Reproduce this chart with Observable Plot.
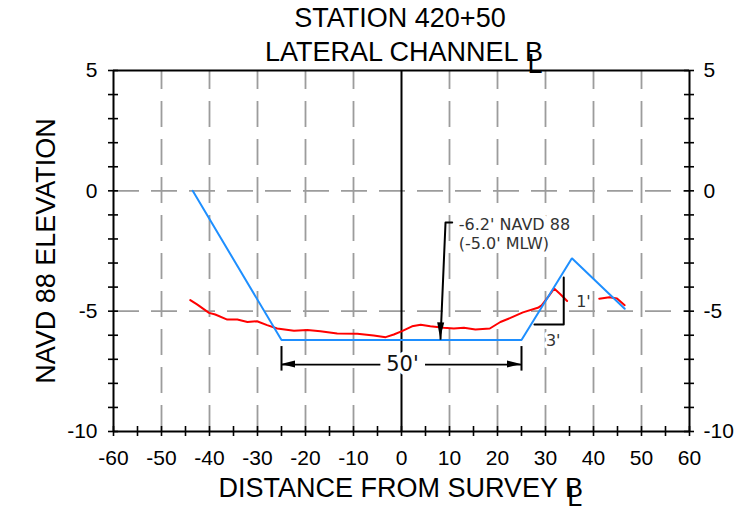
<!DOCTYPE html>
<html>
<head>
<meta charset="utf-8">
<script src="https://cdn.jsdelivr.net/npm/d3@7"></script>
<script src="https://cdn.jsdelivr.net/npm/@observablehq/plot@0.6"></script>
<style>
  html, body { margin: 0; padding: 0; background: #fff; }
  svg { display: block; }
</style>
</head>
<body>
<div id="chart"></div>
<script>
// ---------- data ----------
const xTickLabels = [-60, -50, -40, -30, -20, -10, 0, 10, 20, 30, 40, 50, 60];
const yTickLabels = [5, 0, -5, -10];
const xMinorTicks = [-60, -55, -50, -45, -40, -35, -30, -25, -20, -15, -10, -5, 0, 5, 10, 15, 20, 25, 30, 35, 40, 45, 50, 55, 60];
const yMinorTicks = [5, 4, 3, 2, 1, 0, -1, -2, -3, -4, -5, -6, -7, -8, -9, -10];
const gridX = [-50, -40, -30, -20, -10, 10, 20, 30, 40, 50];
const gridY = [0, -5];

// design channel template (blue)
const designX = [-43.5, -25, 25, 35.5, 46.5];
const designY = [0, -6.2, -6.2, -2.8, -4.9];

// surveyed ground (red), two pieces (interrupted by the 1' label)
const surveyMainX = [-44.0, -42.6, -40.1, -38.8, -36.3, -34.2, -32.1, -30.1, -28.0, -25.9, -22.4, -19.6, -16.9, -13.4, -9.2, -5.8, -3.3, -1.6, 0.1, 2.2, 4.0, 6.0, 8.8, 10.9, 13.0, 15.4, 18.4, 20.6, 22.7, 25.3, 28.4, 29.2, 30.4, 31.8, 33.1, 34.5];
const surveyMainY = [-4.54, -4.72, -5.07, -5.14, -5.35, -5.35, -5.45, -5.42, -5.58, -5.72, -5.81, -5.78, -5.83, -5.93, -5.94, -6.01, -6.08, -5.97, -5.83, -5.63, -5.56, -5.63, -5.69, -5.72, -5.69, -5.76, -5.72, -5.45, -5.28, -5.05, -4.86, -4.76, -4.45, -4.06, -4.30, -4.58];
const surveyEastX = [41.2, 43.3, 44.9, 46.5];
const surveyEastY = [-4.48, -4.42, -4.47, -4.75];

// annotations
const leaderX = [10.56, 9.17, 8.13];
const leaderY = [-1.32, -1.32, -6.15];
const slopeX = [27.7, 33.8, 33.8];
const slopeY = [-5.55, -5.55, -3.6];
const dimTickX = [-25, 25];
const dimLineX1 = [-25, 4.9];
const dimLineX2 = [-4.4, 25];
const dimY = -7.22;
const labels = [
  {x: 11.94, y: -1.04, text: "-6.2' NAVD 88\n(-5.0' MLW)"},
];
const widthLabel = [{x: 0.2, y: -7.22, text: "50'"}];
const slopeLabels = [
  {x: 37.9, y: -4.63, text: "1'"},
  {x: 31.6, y: -6.22, text: "3'"}
];

// ---------- chart ----------
const W = 741, H = 526;
const M = {top: 70, right: 52, bottom: 95, left: 113};
const gray = "#9c9c9c";
const font = "'Liberation Sans', Arial, Helvetica, sans-serif";
const annoFont = "'DejaVu Sans', Verdana, sans-serif";
const pts = (xs, ys) => xs.map((x, i) => ({x, y: ys[i]}));
const fmt = d => String(d);

const plot = Plot.plot({
  width: W,
  height: H,
  marginTop: M.top,
  marginRight: M.right,
  marginBottom: M.bottom,
  marginLeft: M.left,
  style: {fontFamily: font, fontSize: "21px", color: "#000", background: "#fff", overflow: "visible"},
  x: {domain: [-60, 60], label: null},
  y: {domain: [-10, 5], label: null},
  marks: [
    // dashed grid
    Plot.ruleX(gridX, {y1: -10, y2: 5, stroke: gray, strokeWidth: 1.8, strokeDasharray: "26,12"}),
    Plot.ruleY(gridY, {x1: -60, x2: 60, stroke: gray, strokeWidth: 1.8, strokeDasharray: "26,12"}),
    // white gaps around the dimension line
    Plot.link(dimLineX1, {x1: d => d, x2: (d, i) => dimLineX2[i], y1: dimY, y2: dimY, stroke: "#fff", strokeWidth: 7}),
    // centerline
    Plot.ruleX([0], {y1: -10, y2: 5, stroke: "#000", strokeWidth: 2}),
    // frame
    Plot.ruleX([-60, 60], {y1: -10, y2: 5, stroke: "#000", strokeWidth: 2}),
    Plot.ruleY([-10, 5], {x1: -60, x2: 60, stroke: "#000", strokeWidth: 2}),
    // crossing ticks
    Plot.ruleX(xMinorTicks, {y1: -10, y2: -10, insetTop: -5, insetBottom: -5, stroke: "#000", strokeWidth: 1.6}),
    Plot.ruleY(yMinorTicks, {x1: -60, x2: -60, insetLeft: -5, insetRight: -5, stroke: "#000", strokeWidth: 1.6}),
    Plot.ruleY(yMinorTicks, {x1: 60, x2: 60, insetLeft: -5, insetRight: -5, stroke: "#000", strokeWidth: 1.6}),
    // tick labels
    Plot.axisX(xTickLabels, {anchor: "bottom", tickSize: 0, tickPadding: 19, tickFormat: fmt, label: null, fontSize: 21}),
    Plot.axisY(yTickLabels, {anchor: "left", tickSize: 0, tickPadding: 16, tickFormat: fmt, label: null, fontSize: 21}),
    Plot.axisY(yTickLabels, {anchor: "right", tickSize: 0, tickPadding: 14, tickFormat: fmt, label: null, fontSize: 21}),
    // survey (red)
    Plot.line(pts(surveyMainX, surveyMainY), {x: "x", y: "y", stroke: "#ff0000", strokeWidth: 2}),
    Plot.line(pts(surveyEastX, surveyEastY), {x: "x", y: "y", stroke: "#ff0000", strokeWidth: 2}),
    // design template (blue)
    Plot.line(pts(designX, designY), {x: "x", y: "y", stroke: "#1e8fff", strokeWidth: 2, strokeLinejoin: "miter"}),
    // annotation lines
    Plot.line(pts(leaderX, leaderY), {x: "x", y: "y", stroke: "#000", strokeWidth: 2}),
    Plot.line(pts(slopeX, slopeY), {x: "x", y: "y", stroke: "#000", strokeWidth: 2}),
    Plot.link(dimTickX, {x1: d => d, x2: d => d, y1: -6.45, y2: -7.47, stroke: "#000", strokeWidth: 2}),
    Plot.link(dimLineX1, {x1: d => d, x2: (d, i) => dimLineX2[i], y1: dimY, y2: dimY, stroke: "#000", strokeWidth: 1.8}),
    // annotation text
    Plot.text(labels, {x: "x", y: "y", text: "text", textAnchor: "start", lineAnchor: "top", lineHeight: 1.2,
      fontSize: 16, fontFamily: annoFont, fill: "#333", stroke: "#fff", strokeWidth: 11}),
    Plot.text(widthLabel, {x: "x", y: "y", text: "text", fontSize: 21, fontFamily: annoFont, fill: "#111", stroke: "#fff", strokeWidth: 8}),
    Plot.text(slopeLabels, {x: "x", y: "y", text: "text", fontSize: 16, fontFamily: annoFont, fill: "#333", stroke: "#fff", strokeWidth: 6})
  ]
});

document.getElementById("chart").append(plot);
const svg = d3.select(plot);

const sxs = plot.scale("x"), sys = plot.scale("y");
const fx = sxs && sxs.apply ? v => sxs.apply(v) : d3.scaleLinear([-60, 60], [M.left, W - M.right]);
const fy = sys && sys.apply ? v => sys.apply(v) : d3.scaleLinear([-10, 5], [H - M.bottom, M.top]);

// filled arrowheads
function head(tipX, tipY, fromX, fromY, len, hw) {
  const x0 = fx(tipX), y0 = fy(tipY), x1 = fx(fromX), y1 = fy(fromY);
  const dx = x0 - x1, dy = y0 - y1, d = Math.hypot(dx, dy);
  const ux = dx / d, uy = dy / d;
  const bx = x0 - ux * len, by = y0 - uy * len;
  const p = [[x0, y0], [bx - uy * hw, by + ux * hw], [bx + uy * hw, by - ux * hw]];
  svg.append("polygon").attr("points", p.map(q => q.join(",")).join(" ")).attr("fill", "#000");
}
head(dimLineX1[0], dimY, dimLineX2[0], dimY, 14, 3.5);
head(dimLineX2[1], dimY, dimLineX1[1], dimY, 14, 3.5);
head(leaderX[2], leaderY[2], leaderX[1], leaderY[1], 16, 3.5);

// titles
function addText(str, x, y, size, anchor) {
  return svg.append("text").attr("x", x).attr("y", y).attr("font-size", size)
    .attr("font-family", font).attr("fill", "#000").attr("text-anchor", anchor || "middle").text(str);
}
// text ending with the centreline symbol: "B" overlapped by a lowered "L"
function clText(mainText, cx, baseline, size, drop) {
  const t = addText(mainText + "B", cx, baseline, size, "middle");
  let w = 0;
  try { w = t.node().getBBox().width; } catch (e) { w = 0; }
  if (!w) w = t.node().getComputedTextLength();
  addText("L", cx + w / 2 - 0.58 * size, baseline + drop, size, "start");
}
addText("STATION 420+50", 400, 27.3, 27);
clText("LATERAL CHANNEL ", 404, 60.7, 27, 12);
clText("DISTANCE FROM SURVEY ", 400.7, 497.3, 27, 9);
svg.append("text").attr("transform", "translate(55,251) rotate(-90)")
  .attr("font-size", 27).attr("font-family", font).attr("fill", "#000")
  .attr("text-anchor", "middle").text("NAVD 88 ELEVATION");
</script>
</body>
</html>
